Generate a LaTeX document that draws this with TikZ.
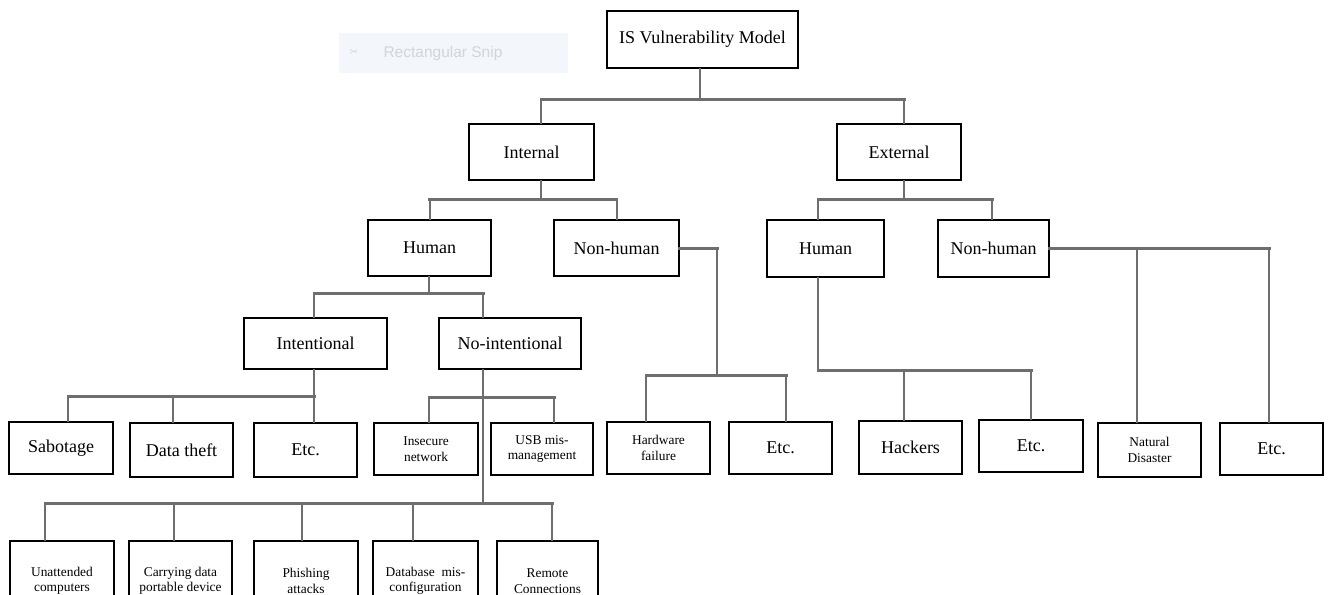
\documentclass[tikz,border=0pt]{standalone}
\usepackage{fontspec}
\setmainfont{Liberation Serif}
\newfontfamily\snipfont{Liberation Sans}
\newfontfamily\symfont{DejaVu Sans}
\definecolor{wireGray}{HTML}{6E6E6E}
\definecolor{snipBlue}{HTML}{F3F7FC}
\definecolor{snipText}{HTML}{D0D5DB}

\begin{document}
\begin{tikzpicture}
[x=1pt,y=-1pt,
 boxDecorate/.style={shape=rectangle,draw=black,line width=1.6pt,inner sep=2pt,align=center,font=\fontsize{18}{20}\selectfont},%
 smallDecorate/.style={boxDecorate,font=\fontsize{13.4}{15.5}\selectfont},%
 lineDecorate/.style={-,draw=wireGray,line width=2pt,line cap=rect},%
 busDecorate/.style={lineDecorate,line width=3pt}]
\useasboundingbox (0,0) rectangle (1329,594);
\clip (0,0) rectangle (1329,594);
%% faint snip bar
\node[fill=snipBlue,minimum width=229,minimum height=40,inner sep=0pt] (snip) at (453.5,53) {};
\node[text=snipText,font=\symfont\fontsize{10}{12}\selectfont] (snipicon) at (354,53) {✂};
\node[text=snipText,font=\snipfont\fontsize{15.5}{17}\selectfont,anchor=west] (sniptext) at (380,53) {Rectangular Snip};
%% nodes or vertices
\foreach \nodename/\x/\y/\w/\h/\txt in {root/702.5/39.5/191/57/IS Vulnerability Model,
  int/531.5/152/125/56/Internal, ext/899/152/124/56/External,
  ihum/429.5/248/123/56/Human, inon/616.5/248/125/56/Non-human,
  ehum/825.5/248.5/117/57/Human, enon/993.5/248.5/111/57/Non-human,
  intent/315.5/343.5/143/51/Intentional, noint/510/343.5/142/51/No-intentional,
  sab/61/448/104/52/Sabotage, theft/181.5/450/103/54/Data theft, ietc/305.5/450/103/54/Etc.,
  hwetc/780.5/448/103/52/Etc., hack/910.5/447.5/103/53/Hackers,
  hetc/1031/446/104/52/Etc., netc/1271.5/449/103/52/Etc.}
{
  \node (\nodename) at (\x,\y) [boxDecorate,minimum width=\w,minimum height=\h] {\txt};
}
\foreach \nodename/\x/\y/\w/\h/\txt in {insec/426/449/104/52/{Insecure\\network},
  usb/542/449/102/52/{USB mis-\\management}, hw/658.5/448/103/52/{Hardware\\failure},
  nat/1149.5/450/103/54/{Natural\\Disaster},
  unatt/62/581/104/80/{Unattended\\computers}, carry/180.5/581/103/80/{Carrying data\\portable device},
  phish/306/581/104/80/{Phishing\\attacks}, dbase/425.5/581/105/80/{Database~~mis-\\configuration},
  remote/547.5/581/101/80/{Remote\\Connections}}
{
  \node (\nodename) at (\x,\y) [smallDecorate,minimum width=\w,minimum height=\h] {\txt};
}
%% bus junctions
\foreach \jname/\x/\y in {jroot/700/99, jint/541/199, jext/904/199, jihum/429/293,
  jinon/717/375, jehum/818/370, jenon/1137/248.5, jintent/314/396,
  jnoint/483/397, jnointlow/483/503}
{
  \coordinate (\jname) at (\x,\y);
}
%% stems from parents
\path
\foreach \startnode/\endnode in {root/jroot, int/jint, ext/jext, ihum/jihum,
  ehum/jehum, intent/jintent, noint/jnointlow}
{
  (\startnode.south -| \endnode) edge[lineDecorate] (\endnode)
};
\path (inon.east) edge[busDecorate] (inon.east -| jinon)
  (inon.east -| jinon) edge[lineDecorate] (jinon);
%% buses
\path
\foreach \jname/\leftnode/\ldx/\rightnode/\rdx in {jroot/int/9.5/ext/5,
  jint/ihum/0/inon/0, jext/ehum/-7.5/enon/-1.5, jihum/intent/-1.5/noint/-27,
  jintent/sab/7/ietc/8.5, jnoint/insec/3/usb/12, jnointlow/unatt/-17/remote/4.5,
  jinon/hw/-12.5/hwetc/5.5, jehum/ehum/-7.5/hetc/0, jenon/enon.east/0/netc/-2.5}
{
  ([xshift=\ldx pt]\jname -| \leftnode) edge[busDecorate] ([xshift=\rdx pt]\jname -| \rightnode)
};
%% drops to children
\path
\foreach \startnode/\endnode/\dx in {jroot/int/9.5, jroot/ext/5,
  jint/ihum/0, jint/inon/0, jext/ehum/-7.5, jext/enon/-1.5,
  jihum/intent/-1.5, jihum/noint/-27,
  jintent/sab/7, jintent/theft/-8.5, jintent/ietc/8.5,
  jnoint/insec/3, jnoint/usb/12,
  jnointlow/unatt/-17, jnointlow/carry/-6.5, jnointlow/phish/-4, jnointlow/dbase/-12.5, jnointlow/remote/4.5,
  jinon/hw/-12.5, jinon/hwetc/5.5, jehum/hack/-6.5, jehum/hetc/0,
  jenon/nat/-12.5, jenon/netc/-2.5}
{
  ([xshift=\dx pt]\endnode.north |- \startnode) edge[lineDecorate] ([xshift=\dx pt]\endnode.north)
};
\end{tikzpicture}
\end{document}
